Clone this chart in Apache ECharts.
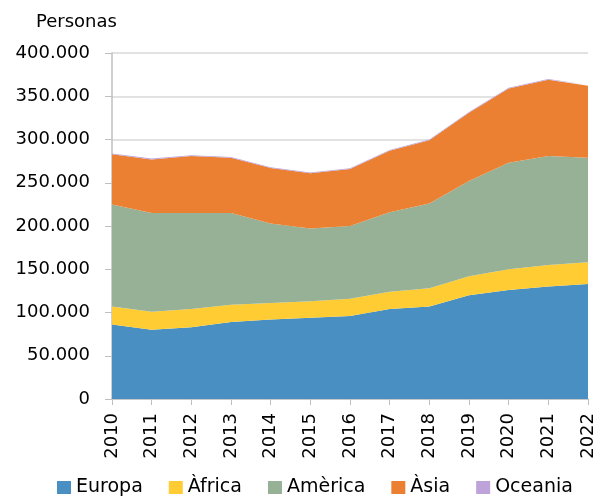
<!DOCTYPE html>
<html>
<head>
<meta charset="UTF-8">
<script src="https://cdn.jsdelivr.net/npm/echarts@6/dist/echarts.min.js"></script>
<style>
  html, body { margin: 0; padding: 0; background: #fff; }
  #main { width: 602px; height: 501px; }
</style>
</head>
<body>
<div id="main"></div>
<script>
// anys i valors (persones), llegits del gràfic
var years = ['2010','2011','2012','2013','2014','2015','2016','2017','2018','2019','2020','2021','2022'];
var europa  = [86000, 80000, 83000, 89000, 92000, 94000, 96000, 104000, 107000, 120000, 126000, 130000, 133000];
var africa  = [21000, 21000, 21000, 20000, 19000, 19000, 20000, 20000, 21000, 22000, 24000, 25000, 25000];
var america = [118000, 114000, 111000, 106000, 92000, 84000, 84000, 92000, 98000, 110000, 123000, 126000, 121000];
var asia    = [58000, 62000, 66000, 64000, 64000, 64000, 66000, 71000, 73000, 79000, 86000, 88000, 83000];
var oceania = [900, 900, 900, 900, 900, 900, 900, 900, 900, 900, 900, 900, 900];

var names = ['Europa', 'Àfrica', 'Amèrica', 'Àsia', 'Oceania'];
var colors = ['#4A8FC2', '#FFCC33', '#96B195', '#EB8033', '#BDA3D9'];
var values = [europa, africa, america, asia, oceania];

var font = 'DejaVu Sans';
var myChart = echarts.init(document.getElementById('main'));

var series = [];
for (var i = 0; i < names.length; i++) {
    series.push({
        name: names[i],
        type: 'line',
        stack: 'total',
        symbol: 'none',
        lineStyle: { width: 0 },
        areaStyle: { color: colors[i], opacity: 1 },
        itemStyle: { color: colors[i] },
        data: values[i]
    });
}

var option = {
    animation: false,
    title: {
        text: 'Personas',
        left: 31,
        top: 8,
        textStyle: { fontFamily: font, fontSize: 18, fontWeight: 'normal', color: '#000' }
    },
    grid: { left: 112, right: 14, top: 53, bottom: 102 },
    legend: {
        top: 473,
        left: 52,
        itemWidth: 14,
        itemHeight: 13,
        itemGap: 26,
        icon: 'rect',
        textStyle: { fontFamily: font, fontSize: 19, color: '#000' },
        data: names
    },
    xAxis: {
        type: 'category',
        boundaryGap: false,
        data: years,
        axisLine: { lineStyle: { color: '#bfbfbf', width: 1.5 } },
        axisTick: { show: true, length: 6, alignWithLabel: true, lineStyle: { color: '#bfbfbf' } },
        axisLabel: { rotate: 90, margin: 14, interval: 0, fontFamily: font, fontSize: 18, color: '#000' }
    },
    yAxis: {
        type: 'value',
        min: 0,
        max: 400000,
        interval: 50000,
        axisLine: { show: true, lineStyle: { color: '#bfbfbf', width: 1.5 } },
        axisTick: { show: true, inside: false, length: 7, lineStyle: { color: '#bfbfbf' } },
        splitLine: { lineStyle: { color: '#d9d9d9', width: 1.5 } },
        axisLabel: {
            margin: 22,
            fontFamily: font,
            fontSize: 18,
            color: '#000',
            formatter: function (v) {
                return String(v).replace(/\B(?=(\d{3})+(?!\d))/g, '.');
            }
        }
    },
    series: series
};

myChart.setOption(option);
</script>
</body>
</html>
